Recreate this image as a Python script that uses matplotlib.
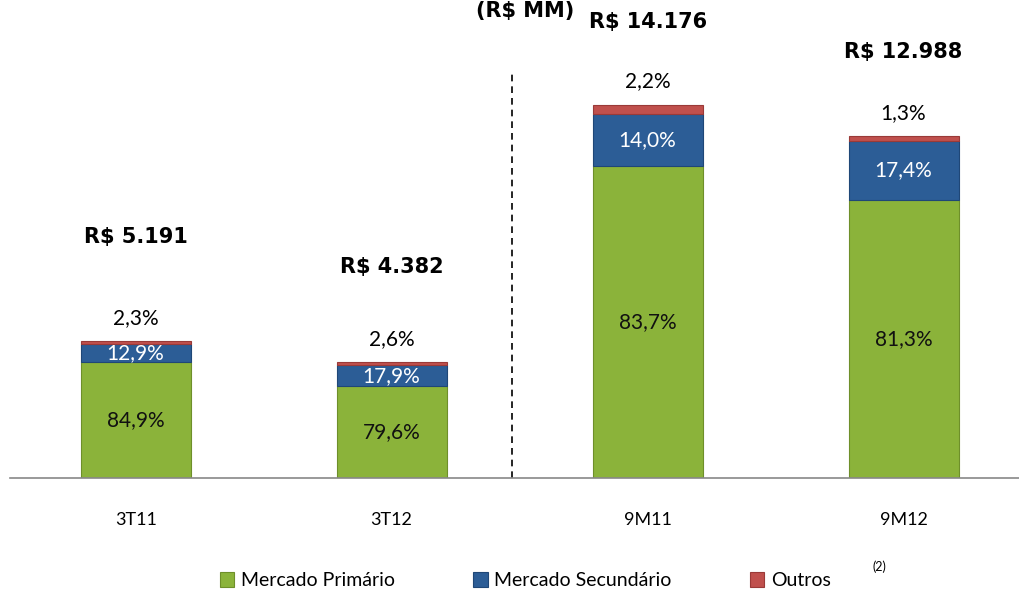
import matplotlib.pyplot as plt
import numpy as np

# data
categories = ['3T11', '3T12', '9M11', '9M12']
totals = [5191, 4382, 14176, 12988]
primario = [84.9, 79.6, 83.7, 81.3]
secundario = [12.9, 17.9, 14.0, 17.4]
outros = [2.3, 2.6, 2.2, 1.3]
total_labels = ['R$ 5.191', 'R$ 4.382', 'R$ 14.176', 'R$ 12.988']
total_offsets = [75, 69, 60, 61]  # points above bar top

green = '#8BB33A'
blue = '#2C5D96'
red = '#C0504D'
pct_font = ['Lato', 'DejaVu Sans']

def fmt(v):
    return ('%.1f%%' % v).replace('.', ',')

fig = plt.figure(figsize=(10.2, 5.92), dpi=100)
ax = fig.add_axes([0.01, 0.193, 0.99, 0.807])

x = np.arange(len(categories))
tot = np.array(totals, dtype=float)
p = tot * np.array(primario) / 100
s = tot * np.array(secundario) / 100
o = tot * np.array(outros) / 100

w = 0.43
ax.bar(x, p, w, color=green, edgecolor='#6E8F2A', linewidth=0.8, label='Mercado Primário')
ax.bar(x, s, w, bottom=p, color=blue, edgecolor='#1F4777', linewidth=0.8, label='Mercado Secundário')
ax.bar(x, o, w, bottom=p + s, color=red, edgecolor='#9A3A38', linewidth=0.8, label='Outros')

for i in range(len(x)):
    ax.text(x[i], p[i] / 2, fmt(primario[i]), ha='center', va='center',
            fontsize=15, family=pct_font, color='#111111')
    ax.text(x[i], p[i] + s[i] / 2, fmt(secundario[i]), ha='center', va='center',
            fontsize=15, family=pct_font, color='white')
    ax.annotate(fmt(outros[i]), (x[i], tot[i]), xytext=(0, 17), textcoords='offset points',
                ha='center', va='center', fontsize=15, family=pct_font)
    ax.annotate(total_labels[i], (x[i], tot[i]), xytext=(0, total_offsets[i]), textcoords='offset points',
                ha='center', va='center', fontsize=15, fontweight='bold')

ax.axvline(1.47, ymin=0, ymax=0.85, color='black', linestyle=(0, (4, 3)), linewidth=1.2)

ax.set_xlim(-0.49, 3.455)
ax.set_ylim(0, 18170)
for sp in ['top', 'right', 'left']:
    ax.spines[sp].set_visible(False)
ax.spines['bottom'].set_color('#888888')
ax.spines['bottom'].set_linewidth(1.2)
ax.set_yticks([])
ax.set_xticks(x)
ax.set_xticklabels(categories, fontsize=13, family=pct_font)
ax.tick_params(axis='x', length=0, pad=25)

fig.text(0.515, 0.999, '(R$ MM)', ha='center', va='top', fontsize=15, fontweight='bold')

leg = fig.legend(loc='lower center', bbox_to_anchor=(0.515, -0.025), ncol=3, frameon=False,
                 prop={'family': pct_font, 'size': 14}, handlelength=0.75, handleheight=0.75,
                 handletextpad=0.35, columnspacing=4.0)
fig.text(0.855, 0.035, '(2)', fontsize=9, family=pct_font)

fig.savefig('out.png', dpi=100)
